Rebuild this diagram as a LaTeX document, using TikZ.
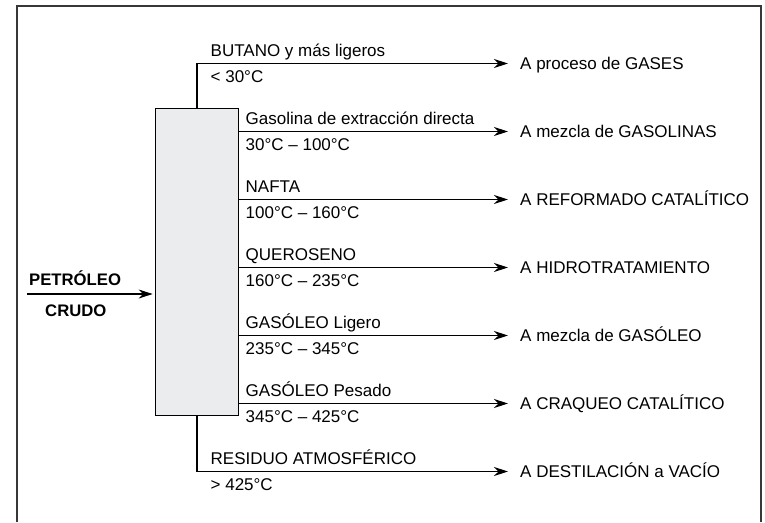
\documentclass[tikz,border=0pt]{standalone}
\usepackage{fontspec}
\setmainfont{Liberation Sans}
\usetikzlibrary{arrows.meta}
\definecolor{torrefill}{RGB}{235,236,238}
\definecolor{marco}{RGB}{55,55,55}

\begin{document}
\begin{tikzpicture}[x=1pt,y=-1pt,
	txt/.style={anchor=base west,inner sep=0pt,font=\fontsize{17}{20}\selectfont},
	dest/.style={anchor=west,inner xsep=12pt,inner ysep=0pt,text height=12.6pt,text depth=0.5pt,font=\fontsize{17}{20}\selectfont},
	flujo/.style={line width=1.1pt,-{Stealth[length=14pt,width=9pt,inset=4.5pt]}}]
	\useasboundingbox (0,0) rectangle (765,522);
	\draw[marco,line width=2pt] (17,522) -- (17,5.7) -- (761,5.7) -- (761,522);
	\node[draw,fill=torrefill,line width=1.1pt,minimum width=82.6pt,minimum height=306.7pt,inner sep=0pt] (torre) at (197,261.7) {};
	\coordinate (entrada) at (27,294);
	\node[txt,font=\fontsize{16.7}{20}\selectfont\bfseries] (petroleo) at (29,285) {PETRÓLEO};
	\node[txt,font=\fontsize{16.7}{20}\selectfont\bfseries] (crudo) at (45,316.7) {CRUDO};
	\draw[flujo,shorten >=2.5pt] (entrada) -- (torre.west |- entrada);
	\node[dest] (gases) at (508,63.5) {A proceso de GASES};
	\node[dest] (gasolinas) at (508,131.5) {A mezcla de GASOLINAS};
	\node[dest] (reformado) at (508,199.5) {A REFORMADO CATALÍTICO};
	\node[dest] (hidro) at (508,267.5) {A HIDROTRATAMIENTO};
	\node[dest] (gasoleo) at (508,335.5) {A mezcla de GASÓLEO};
	\node[dest] (craqueo) at (508,403.5) {A CRAQUEO CATALÍTICO};
	\node[dest] (vacio) at (508,471.5) {A DESTILACIÓN a VACÍO};
	\draw[flujo] (torre.north) |- (gases.west);
	\draw[flujo] (torre.east |- gasolinas) -- (gasolinas.west);
	\draw[flujo] (torre.east |- reformado) -- (reformado.west);
	\draw[flujo] (torre.east |- hidro) -- (hidro.west);
	\draw[flujo] (torre.east |- gasoleo) -- (gasoleo.west);
	\draw[flujo] (torre.east |- craqueo) -- (craqueo.west);
	\draw[flujo] (torre.south) |- (vacio.west);
	\node[txt] (butano) at (210.5,56) {BUTANO y más ligeros};
	\node[txt] (tbutano) at (210.5,82.2) {< 30°C};
	\node[txt] (gasolina) at (245.5,124) {Gasolina de extracción directa};
	\node[txt] (tgasolina) at (245.5,150.2) {30°C – 100°C};
	\node[txt] (nafta) at (245.5,192) {NAFTA};
	\node[txt] (tnafta) at (245.5,218.2) {100°C – 160°C};
	\node[txt] (queroseno) at (245.5,260) {QUEROSENO};
	\node[txt] (tqueroseno) at (245.5,286.2) {160°C – 235°C};
	\node[txt] (ligero) at (245.5,328) {GASÓLEO Ligero};
	\node[txt] (tligero) at (245.5,354.2) {235°C – 345°C};
	\node[txt] (pesado) at (245.5,396) {GASÓLEO Pesado};
	\node[txt] (tpesado) at (245.5,422.2) {345°C – 425°C};
	\node[txt] (residuo) at (210.5,464) {RESIDUO ATMOSFÉRICO};
	\node[txt] (tresiduo) at (210.5,490.2) {> 425°C};
\end{tikzpicture}
\end{document}
